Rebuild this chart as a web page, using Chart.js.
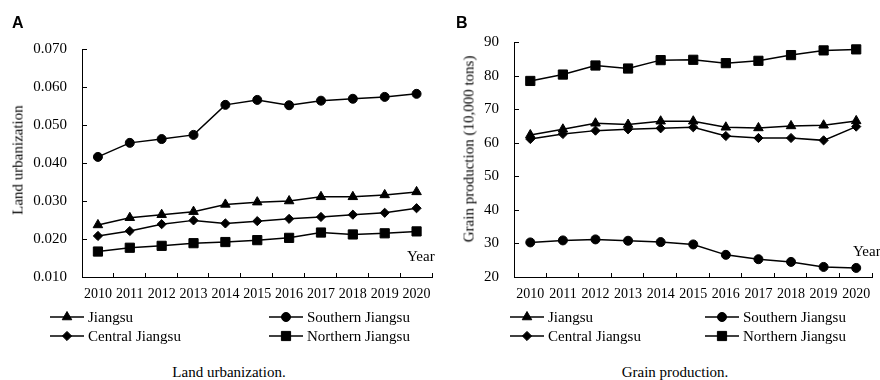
<!DOCTYPE html>
<html lang="en">
<head>
<meta charset="UTF-8">
<title>Land urbanization and grain production</title>
<script src="https://cdn.jsdelivr.net/npm/chart.js"></script>
<style>
body {
    margin: 0;
    background: #fff;
    color: #000;
    font-family: "Liberation Serif", "Times New Roman", serif;
}
#wrap {
    position: relative;
    width: 880px;
    height: 380px;
    overflow: hidden;
}
#wrap > canvas {
    position: absolute;
    top: 0;
}
.letter {
    position: absolute;
    font-family: "Liberation Sans", Arial, sans-serif;
    font-weight: bold;
    font-size: 16px;
    line-height: 1;
}
.ytitle {
    position: absolute;
    transform: translate(-50%, -50%) rotate(-90deg);
    font-size: 15px;
    white-space: nowrap;
}
.caption, .year {
    position: absolute;
    font-size: 15px;
    white-space: nowrap;
    transform: translateY(-50%);
}
.caption { transform: translate(-50%, -50%); }
.leg {
    position: absolute;
    display: flex;
    align-items: center;
    height: 18px;
    font-size: 15px;
    white-space: nowrap;
    transform: translateY(-50%);
}
.leg span { margin-left: 4px; }
</style>
</head>
<body>
<div id="wrap">
    <canvas id="landChart" width="440" height="310" style="left:0"></canvas>
    <canvas id="grainChart" width="440" height="310" style="left:440px"></canvas>

    <div class="letter" style="left:12px;top:15px">A</div>
    <div class="letter" style="left:456px;top:15px">B</div>

    <div class="ytitle" style="left:18px;top:160px">Land urbanization</div>
    <div class="ytitle" style="left:469px;top:149px">Grain production (10,000 tons)</div>

    <div class="year" style="left:407px;top:256px">Year</div>
    <div class="year" style="left:853px;top:251px">Year</div>

    <div class="caption" style="left:229px;top:372px">Land urbanization.</div>
    <div class="caption" style="left:675px;top:372px">Grain production.</div>
</div>

<script>
    var years = ['2010', '2011', '2012', '2013', '2014', '2015', '2016', '2017', '2018', '2019', '2020'];
    var seriesNames = ['Jiangsu', 'Southern Jiangsu', 'Central Jiangsu', 'Northern Jiangsu'];

    // A: land urbanization
    var landJiangsu = [0.0237, 0.0256, 0.0264, 0.0272, 0.0291, 0.0297, 0.0300, 0.0311, 0.0311, 0.0316, 0.0324];
    var landSouthern = [0.0416, 0.0453, 0.0463, 0.0474, 0.0553, 0.0566, 0.0552, 0.0564, 0.0569, 0.0574, 0.0582];
    var landCentral = [0.0208, 0.0221, 0.0239, 0.0249, 0.0241, 0.0247, 0.0253, 0.0258, 0.0264, 0.0269, 0.0281];
    var landNorthern = [0.0167, 0.0177, 0.0182, 0.0189, 0.0192, 0.0197, 0.0203, 0.0217, 0.0212, 0.0215, 0.0220];
    var landTicks = [0.010, 0.020, 0.030, 0.040, 0.050, 0.060, 0.070];

    // B: grain production (10,000 tons)
    var grainJiangsu = [62.3, 64.0, 65.8, 65.4, 66.4, 66.4, 64.6, 64.4, 65.0, 65.2, 66.5];
    var grainSouthern = [30.3, 30.9, 31.2, 30.8, 30.4, 29.7, 26.6, 25.3, 24.5, 23.0, 22.7];
    var grainCentral = [61.1, 62.6, 63.6, 64.0, 64.3, 64.6, 62.0, 61.4, 61.4, 60.7, 64.8];
    var grainNorthern = [78.4, 80.3, 83.0, 82.1, 84.6, 84.7, 83.7, 84.4, 86.1, 87.5, 87.8];
    var grainTicks = [20, 30, 40, 50, 60, 70, 80, 90];

    var markers = [
        { pointStyle: 'triangle', radius: 5.5 },
        { pointStyle: 'circle', radius: 4.5 },
        { pointStyle: 'rectRot', radius: 4.6 },
        { pointStyle: 'rect', radius: 6.5 }
    ];

    // small tick marks pointing into the plot
    var inwardTicks = {
        id: 'inwardTicks',
        afterDraw: function (chart) {
            var ctx = chart.ctx;
            var area = chart.chartArea;
            var xs = chart.scales.x;
            var ys = chart.scales.y;
            ctx.save();
            ctx.strokeStyle = '#000';
            ctx.lineWidth = 1;
            ctx.beginPath();
            ys.ticks.forEach(function (t) {
                var py = Math.round(ys.getPixelForValue(t.value)) + 0.5;
                ctx.moveTo(area.left, py);
                ctx.lineTo(area.left + 5, py);
            });
            var half = (xs.getPixelForValue(1) - xs.getPixelForValue(0)) / 2;
            for (var i = 0; i < xs.ticks.length; i++) {
                var px = Math.round(xs.getPixelForValue(i) + half) - 0.5;
                ctx.moveTo(px, area.bottom);
                ctx.lineTo(px, area.bottom - 4);
            }
            ctx.stroke();
            ctx.restore();
        }
    };

    function makeDatasets(values) {
        return values.map(function (data, i) {
            return {
                label: seriesNames[i],
                data: data,
                borderColor: '#000',
                backgroundColor: '#000',
                borderWidth: 1.5,
                pointStyle: markers[i].pointStyle,
                pointRadius: markers[i].radius,
                pointBorderWidth: 1,
                pointBackgroundColor: '#000',
                pointBorderColor: '#000',
                tension: 0,
                clip: false
            };
        });
    }

    function drawChart(id, values, tickValues, decimals, axisWidth, topPad, rightPad) {
        var ctx = document.getElementById(id).getContext('2d');
        return new Chart(ctx, {
            type: 'line',
            data: {
                labels: years,
                datasets: makeDatasets(values)
            },
            plugins: [inwardTicks],
            options: {
                responsive: false,
                animation: false,
                layout: { padding: { top: topPad, right: rightPad, left: 0, bottom: 0 } },
                plugins: {
                    legend: { display: false },
                    tooltip: { enabled: false }
                },
                scales: {
                    x: {
                        offset: true,
                        grid: { display: false, drawTicks: false },
                        border: { display: true, color: '#000', width: 1 },
                        ticks: {
                            color: '#000',
                            font: { family: 'Liberation Serif', size: 14 },
                            padding: 9,
                            maxRotation: 0,
                            autoSkip: false
                        },
                        afterFit: function (s) { s.height = 33; }
                    },
                    y: {
                        min: tickValues[0],
                        max: tickValues[tickValues.length - 1],
                        grid: { display: false, drawTicks: false },
                        border: { display: true, color: '#000', width: 1 },
                        ticks: {
                            color: '#000',
                            font: { family: 'Liberation Serif', size: 15 },
                            padding: 15,
                            callback: function (v) { return v.toFixed(decimals); }
                        },
                        afterBuildTicks: function (s) {
                            s.ticks = tickValues.map(function (v) { return { value: v }; });
                        },
                        afterFit: function (s) { s.width = axisWidth; }
                    }
                }
            }
        });
    }

    function drawLegend(left1, left2, top1) {
        var wrap = document.getElementById('wrap');
        var spots = [[left1, top1], [left2, top1], [left1, top1 + 19], [left2, top1 + 19]];
        seriesNames.forEach(function (name, i) {
            var item = document.createElement('div');
            item.className = 'leg';
            item.style.left = spots[i][0] + 'px';
            item.style.top = spots[i][1] + 'px';
            var c = document.createElement('canvas');
            c.width = 34;
            c.height = 16;
            var g = c.getContext('2d');
            g.strokeStyle = '#000';
            g.fillStyle = '#000';
            g.lineWidth = 1.5;
            g.beginPath();
            g.moveTo(0, 8);
            g.lineTo(34, 8);
            g.stroke();
            g.lineWidth = 1;
            Chart.helpers.drawPoint(g, { pointStyle: markers[i].pointStyle, radius: markers[i].radius, borderWidth: 1, rotation: 0 }, 17, 8);
            var label = document.createElement('span');
            label.textContent = name;
            item.appendChild(c);
            item.appendChild(label);
            wrap.appendChild(item);
        });
    }

    drawChart('landChart', [landJiangsu, landSouthern, landCentral, landNorthern], landTicks, 3, 82, 49, 1);
    drawChart('grainChart', [grainJiangsu, grainSouthern, grainCentral, grainNorthern], grainTicks, 0, 74, 42, 0);

    drawLegend(50, 269, 317);
    drawLegend(510, 705, 317);
</script>
</body>
</html>
